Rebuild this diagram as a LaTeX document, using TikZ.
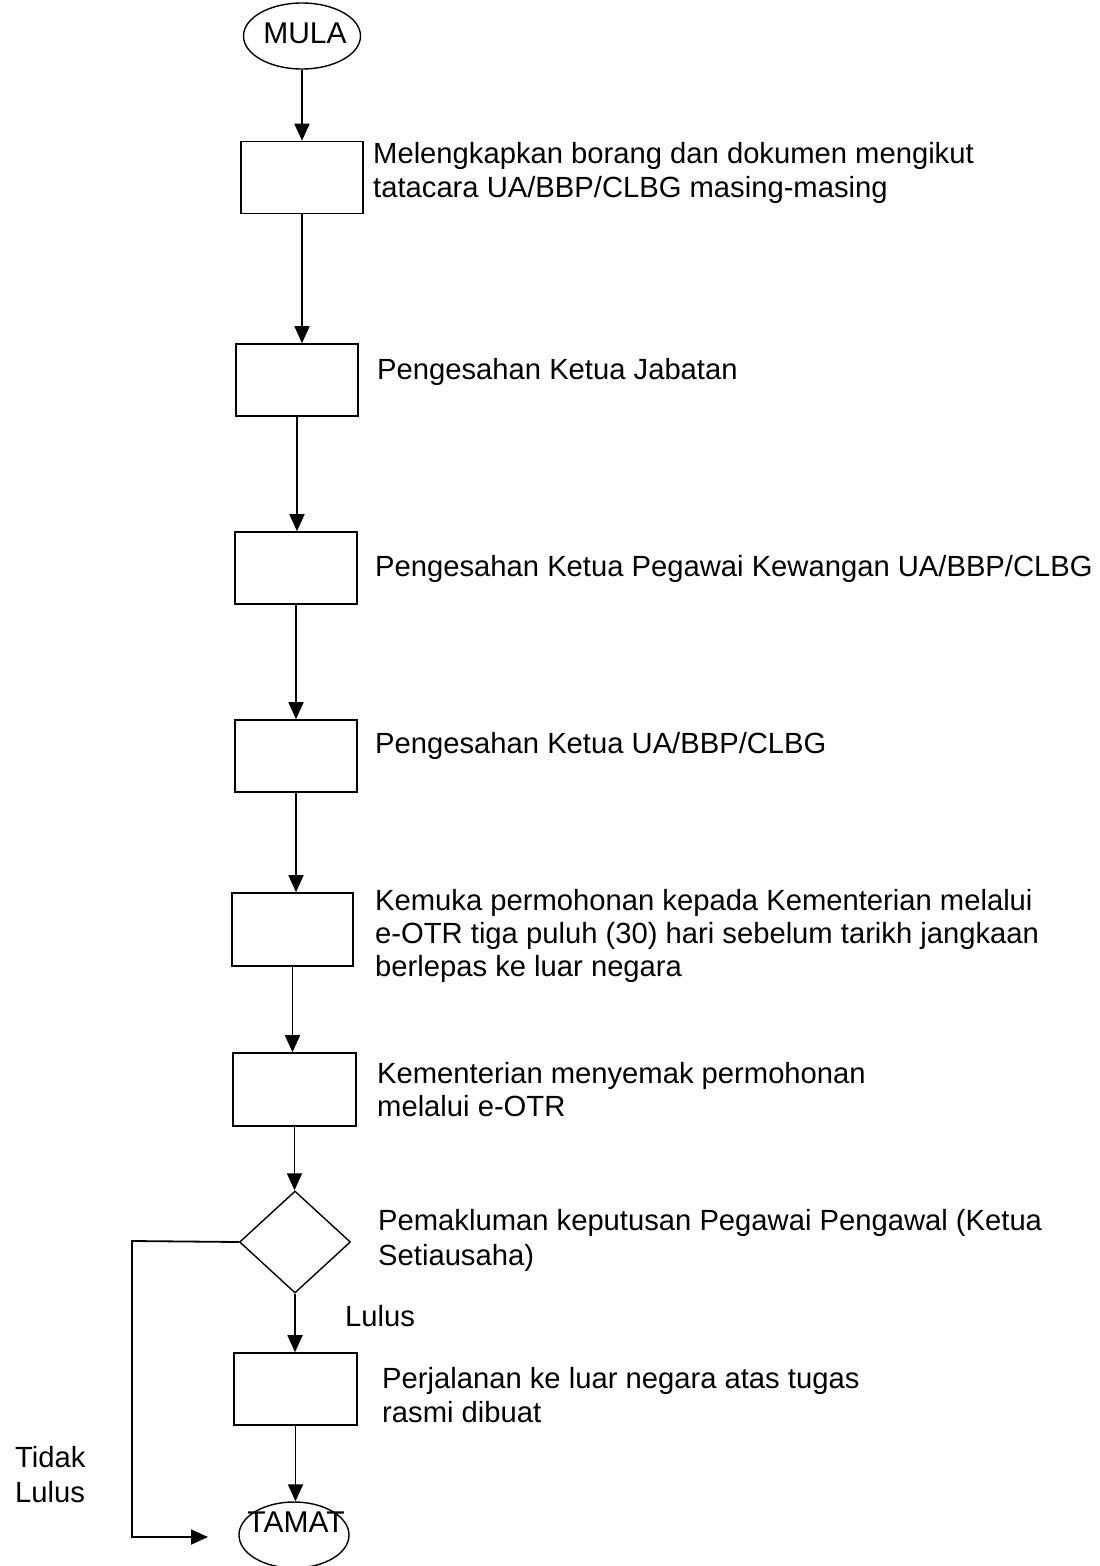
\documentclass[tikz,border=0pt]{standalone}
\usepackage{fontspec}
\setmainfont{Liberation Sans}
\usetikzlibrary{shapes.geometric,arrows.meta}
\tikzset{
  box/.style={draw,line width=1.6pt,minimum width=122pt,minimum height=72pt,inner sep=0pt},
  term/.style={draw,line width=1.4pt,ellipse,inner sep=0pt},
  decision/.style={draw,line width=1.4pt,diamond,minimum width=111pt,minimum height=102pt,inner sep=0pt},
  arr/.style={line width=1.8pt,-{Triangle[length=17pt,width=15pt]}},
  desc/.style={anchor=base west,inner sep=0pt,align=left,font=\fontsize{29.2}{34}\selectfont},
  termtext/.style={inner sep=0pt,anchor=base,font=\fontsize{30}{34}\selectfont},
}
\begin{document}
\begin{tikzpicture}[x=1pt,y=-1pt]
\useasboundingbox (0,0) rectangle (1100,1566);
\node[term,minimum width=117pt,minimum height=66pt] (mula) at (302,36) {};
\node[termtext] (mulat) at (305,43) {MULA};
\node[box] (b1) at (302,177.5) {};
\node[box] (b2) at (297,380) {};
\node[box] (b3) at (296,568) {};
\node[box] (b4) at (296,756) {};
\node[box,minimum width=121pt,minimum height=73pt] (b5) at (292.5,929.5) {};
\node[box,minimum width=123pt,minimum height=73pt] (b6) at (294.5,1089.5) {};
\node[decision] (d) at (295,1242) {};
\node[box,minimum width=123pt] (b7) at (295.5,1389) {};
\node[term,minimum width=110pt,minimum height=66pt] (tamat) at (294,1535) {};
\node[termtext] (tamatt) at (296,1532) {TAMAT};
\coordinate (tl) at (208,1537);

\node[desc] (t1) at (373,197) {Melengkapkan borang dan dokumen mengikut\\tatacara UA/BBP/CLBG masing-masing};
\node[desc] (t2) at (377,379) {Pengesahan Ketua Jabatan};
\node[desc] (t3) at (375,576) {Pengesahan Ketua Pegawai Kewangan UA/BBP/CLBG};
\node[desc] (t4) at (375,753) {Pengesahan Ketua UA/BBP/CLBG};
\node[desc,font=\fontsize{29.2}{33}\selectfont] (t5) at (375,976) {Kemuka permohonan kepada Kementerian melalui\\e-OTR tiga puluh (30) hari sebelum tarikh jangkaan\\berlepas ke luar negara};
\node[desc,font=\fontsize{29.2}{33}\selectfont] (t6) at (377,1116) {Kementerian menyemak permohonan\\melalui e-OTR};
\node[desc,font=\fontsize{29.2}{35}\selectfont] (t7) at (378,1265) {Pemakluman keputusan Pegawai Pengawal (Ketua\\Setiausaha)};
\node[desc] (lulus) at (345,1326) {Lulus};
\node[desc] (t8) at (382,1422) {Perjalanan ke luar negara atas tugas\\rasmi dibuat};
\node[desc,font=\fontsize{29.2}{35}\selectfont] (tidak) at (15,1502) {Tidak\\Lulus};

\draw[arr] (mula.south) -- (mula.south |- b1.north);
\draw[arr] (b1.south) -- (b1.south |- b2.north);
\draw[arr] (b2.south) -- (b2.south |- b3.north);
\draw[arr] (b3.south) -- (b3.south |- b4.north);
\draw[arr] (b4.south) -- (b4.south |- b5.north);
\draw[arr] (b5.south) -- (b5.south |- b6.north);
\draw[arr] (b6.south) -- (b6.south |- d.north);
\draw[arr] (d.south) -- (d.south |- b7.north);
\draw[arr] (b7.south) -- (b7.south |- tamat.north);
\draw[arr] (d.west) -- (132,1241) |- (tl);
\end{tikzpicture}
\end{document}
